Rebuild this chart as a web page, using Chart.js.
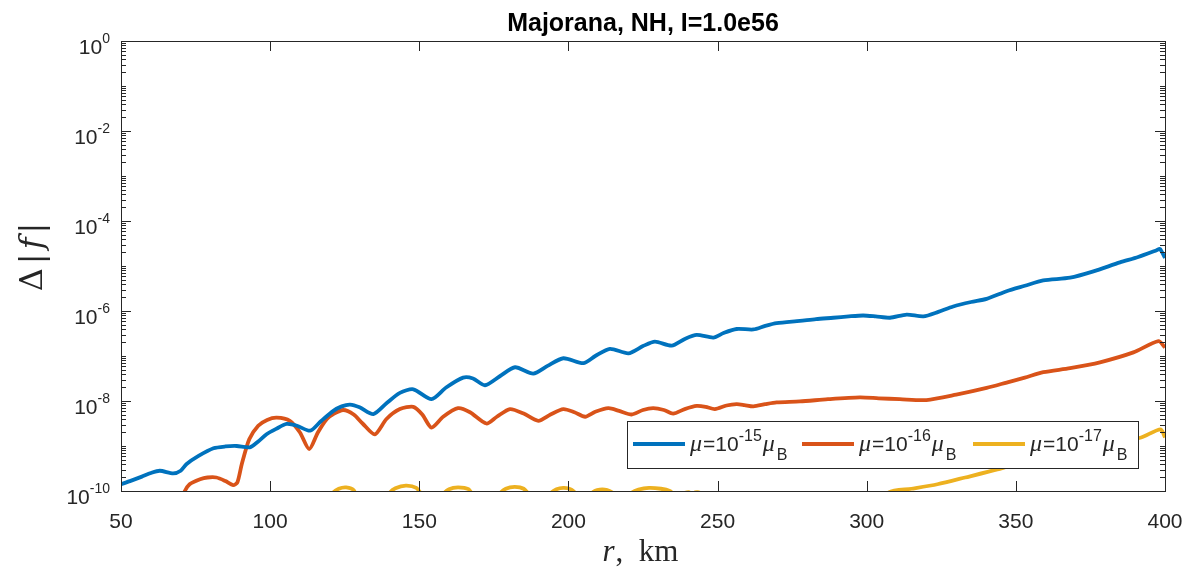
<!DOCTYPE html>
<html>
<head>
<meta charset="utf-8">
<script src="https://cdn.jsdelivr.net/npm/chart.js@4.4.1/dist/chart.umd.min.js"></script>
<style>
html, body { margin: 0; padding: 0; background: #fff; }
#wrap { width: 1185px; height: 569px; }
</style>
</head>
<body>
<div id="wrap"><canvas id="chart1" width="1185" height="569"></canvas></div>
<script>
// r in km and log10 of delta|f|
var rBlue = [50, 53, 57, 60, 63, 67.5, 70, 72, 76, 81, 85, 88.8, 93.2, 96, 98.8, 102, 105.5, 109, 113.4, 117,
    121.2, 124, 126.8, 130, 134.6, 139, 143.5, 148, 154.1, 159, 164.7, 168, 172, 177, 182.1, 188.2, 193, 198.3,
    205, 209, 213.9, 220.1, 225, 229, 234.6, 239, 243, 248.6, 252, 256.4, 262, 266, 269.8, 277.6, 283, 288.8,
    294, 298.8, 303, 307.8, 313.4, 319, 324, 329, 335, 340.2, 346.9, 353, 359.2, 368.2, 376, 384.9, 391, 397.2,
    398.3, 400];
var logBlue = [-9.85, -9.78, -9.68, -9.60, -9.55, -9.61, -9.55, -9.40, -9.22, -9.05, -9.01, -9.0, -9.03, -8.90,
    -8.74, -8.62, -8.51, -8.55, -8.66, -8.45, -8.22, -8.12, -8.08, -8.14, -8.29, -8.05, -7.82, -7.74, -7.96,
    -7.70, -7.48, -7.50, -7.65, -7.45, -7.25, -7.39, -7.22, -7.05, -7.16, -7.0, -6.84, -6.94, -6.78, -6.68,
    -6.77, -6.62, -6.53, -6.59, -6.49, -6.40, -6.41, -6.33, -6.27, -6.22, -6.18, -6.15, -6.12, -6.10, -6.12,
    -6.15, -6.08, -6.12, -6.02, -5.90, -5.80, -5.73, -5.56, -5.44, -5.32, -5.26, -5.12, -4.92, -4.80, -4.65,
    -4.62, -4.82];

var rRed = [70, 71.2, 73, 76.5, 79, 82, 85, 87.6, 89, 90.5, 93, 96, 99, 102.2, 106.6, 110, 113.1, 116, 119,
    121.2, 124.5, 128, 131, 135.1, 139, 143.5, 148, 151, 154.1, 158, 163, 167, 172.5, 176, 180.4, 185, 189.9,
    194, 198.3, 202, 205.6, 209, 213.4, 217, 221.2, 225, 228.4, 232, 235.1, 239, 243, 246, 249.1, 253, 256.4,
    259, 262, 266, 269.8, 277.6, 287, 297.7, 304, 311.1, 320, 330, 340.2, 346.9, 353, 359.2, 368.2, 378.2,
    389.4, 397.8, 400];
var logRed = [-10.3, -10.03, -9.85, -9.74, -9.70, -9.70, -9.78, -9.87, -9.81, -9.4, -8.85, -8.55, -8.42, -8.37,
    -8.44, -8.70, -9.07, -8.70, -8.40, -8.29, -8.20, -8.30, -8.50, -8.74, -8.40, -8.18, -8.13, -8.30, -8.59,
    -8.35, -8.16, -8.25, -8.50, -8.35, -8.18, -8.28, -8.44, -8.30, -8.18, -8.25, -8.35, -8.24, -8.16, -8.22,
    -8.30, -8.20, -8.16, -8.20, -8.28, -8.18, -8.11, -8.13, -8.18, -8.10, -8.07, -8.09, -8.12, -8.07, -8.03,
    -8.01, -7.96, -7.92, -7.94, -7.96, -7.98, -7.86, -7.71, -7.59, -7.48, -7.36, -7.27, -7.14, -6.92, -6.67,
    -6.81];

var rYellow = [118, 121, 123, 125.5, 128, 130, 136, 140, 142, 145.5, 149, 151, 155, 158, 160, 163, 166.5, 168,
    173, 177, 179, 182, 185, 187, 191, 194, 196, 198.5, 201, 203, 206, 208, 210.5, 213, 215, 218, 221, 223.5,
    227, 231, 234, 236, 239, 240.5, 241.5, 242.5, 244, 245, 260, 290, 300, 307.4, 315, 323.7, 333, 343.8, 355,
    365, 375, 385, 392, 398.5, 400];
var logYellow = [-10.6, -10.05, -9.95, -9.92, -9.98, -10.3, -10.6, -10.05, -9.94, -9.88, -9.93, -10.1, -10.5,
    -10.08, -9.96, -9.92, -9.96, -10.1, -10.5, -10.06, -9.95, -9.91, -9.95, -10.1, -10.5, -10.06, -9.96, -9.93,
    -9.97, -10.1, -10.4, -10.04, -9.97, -9.98, -10.05, -10.3, -10.05, -9.97, -9.93, -9.95, -10.0, -10.1, -10.04,
    -10.03, -10.1, -10.03, -10.04, -10.2, -11, -11, -10.5, -10.03, -9.95, -9.85, -9.7, -9.52, -9.3, -9.15, -9.0,
    -8.9, -8.81, -8.63, -8.81];

var xTicks = [50, 100, 150, 200, 250, 300, 350, 400];
var yDecades = [-10, -8, -6, -4, -2, 0];
var muExponents = ['-15', '-16', '-17'];
var colors = ['#0072BD', '#D95319', '#EDB120'];

var axisColor = '#262626';
var sans = '"Liberation Sans", Arial, sans-serif';
var serif = '"Liberation Serif", "Times New Roman", serif';

function toPoints(rs, logs) {
    return rs.map(function (r, i) { return {x: r, y: Math.pow(10, logs[i])}; });
}

function lineSet(label, pts, color) {
    return {
        label: label,
        data: pts,
        borderColor: color,
        backgroundColor: color,
        borderWidth: 3.8,
        pointRadius: 0,
        tension: 0.25,
        fill: false,
        clip: 0
    };
}

// draws "10" with a raised exponent, right edge at x
function drawPow(c, exp, xRight, base, size, supSize) {
    c.font = size + 'px ' + sans;
    var w1 = c.measureText('10').width;
    c.font = supSize + 'px ' + sans;
    var w2 = c.measureText(exp).width;
    var x0 = xRight - w1 - w2;
    c.font = size + 'px ' + sans;
    c.fillText('10', x0, base);
    c.font = supSize + 'px ' + sans;
    c.fillText(exp, x0 + w1, base - 10.5);
}

var matlabAxes = {
    id: 'matlabAxes',
    afterDatasetsDraw: function (chart) {
        var c = chart.ctx, a = chart.chartArea;
        var xs = chart.scales.x, ys = chart.scales.y;
        c.save();
        c.strokeStyle = axisColor;
        c.fillStyle = axisColor;
        c.lineWidth = 1;

        // ticks along x (inward, bottom and top)
        c.beginPath();
        xTicks.forEach(function (t) {
            var px = Math.round(xs.getPixelForValue(t)) + 0.5;
            c.moveTo(px, a.bottom); c.lineTo(px, a.bottom - 10);
            c.moveTo(px, a.top); c.lineTo(px, a.top + 10);
        });
        // log ticks along y (left and right)
        for (var d = -10; d <= 0; d++) {
            for (var k = 1; k <= 9; k++) {
                if (d === 0 && k > 1) break;
                var py = Math.round(ys.getPixelForValue(k * Math.pow(10, d))) + 0.5;
                var len = (k === 1 && d % 2 === 0) ? 10 : 5;
                c.moveTo(a.left, py); c.lineTo(a.left + len, py);
                c.moveTo(a.right, py); c.lineTo(a.right - len, py);
            }
        }
        c.stroke();
        c.strokeRect(Math.round(a.left) + 0.5, Math.round(a.top) + 0.5,
            Math.round(a.right - a.left), Math.round(a.bottom - a.top));

        // tick labels
        c.textBaseline = 'alphabetic';
        c.font = '21px ' + sans;
        c.textAlign = 'center';
        xTicks.forEach(function (t) {
            c.fillText(String(t), xs.getPixelForValue(t), a.bottom + 37);
        });
        c.textAlign = 'left';
        yDecades.forEach(function (d) {
            var py = ys.getPixelForValue(Math.pow(10, d));
            drawPow(c, String(d), a.left - 11, py + 12.5, 21, 14);
        });

        // title
        c.fillStyle = '#000';
        c.font = 'bold 25px ' + sans;
        c.textAlign = 'center';
        c.fillText('Majorana, NH, I=1.0e56', (a.left + a.right) / 2, 31);

        // x axis label: r, km
        c.fillStyle = axisColor;
        c.textAlign = 'left';
        c.font = 'italic 31px ' + serif;
        var wr = c.measureText('r').width;
        c.font = '31px ' + serif;
        var wk = c.measureText(',  km').width;
        var xl = (a.left + a.right) / 2 - 3 - (wr + wk) / 2;
        c.font = 'italic 31px ' + serif;
        c.fillText('r', xl, 561);
        c.font = '31px ' + serif;
        c.fillText(',  km', xl + wr + 1, 561);

        // y axis label: Δ|f|
        c.save();
        c.translate(42, 257);
        c.rotate(-Math.PI / 2);
        var ySerif = '"DejaVu Serif", ' + serif;
        var parts = [['Δ', ''], ['|', ''], ['f', 'italic '], ['|', '']];
        var gap = 4;
        var tot = -gap;
        parts.forEach(function (p) { c.font = p[1] + '32px ' + ySerif; tot += c.measureText(p[0]).width + gap; });
        var xx = -tot / 2;
        parts.forEach(function (p) {
            c.font = p[1] + '32px ' + ySerif;
            c.fillText(p[0], xx, 0);
            xx += c.measureText(p[0]).width + gap;
        });
        c.restore();

        // legend
        var lx = 627, ly = 421, lw = 511, lh = 47;
        c.fillStyle = '#fff';
        c.fillRect(lx, ly, lw, lh);
        c.strokeStyle = axisColor;
        c.lineWidth = 1;
        c.strokeRect(lx + 0.5, ly + 0.5, lw, lh);
        var starts = [633, 802, 973];
        chart.data.datasets.forEach(function (ds, i) {
            var x0 = starts[i], yMid = ly + 23;
            c.strokeStyle = ds.borderColor;
            c.lineWidth = 3.8;
            c.beginPath();
            c.moveTo(x0, yMid); c.lineTo(x0 + 52, yMid);
            c.stroke();
            c.fillStyle = axisColor;
            var tx = x0 + 57, base = ly + 30;
            c.font = 'italic 24px ' + serif;
            c.fillText('μ', tx, base);
            tx += c.measureText('μ').width + 1;
            c.font = '21px ' + sans;
            c.fillText('=10', tx, base);
            tx += c.measureText('=10').width;
            c.font = '16px ' + sans;
            c.fillText(muExponents[i], tx, base - 10);
            tx += c.measureText(muExponents[i]).width + 1;
            c.font = 'italic 24px ' + serif;
            c.fillText('μ', tx, base);
            tx += c.measureText('μ').width + 2;
            c.font = '16px ' + sans;
            c.fillText('B', tx, base + 9);
        });
        c.restore();
    }
};

var ctx1 = document.getElementById('chart1').getContext('2d');
var chart1 = new Chart(ctx1, {
    type: 'line',
    data: {
        datasets: [
            lineSet('μ=10^-15 μB', toPoints(rBlue, logBlue), colors[0]),
            lineSet('μ=10^-16 μB', toPoints(rRed, logRed), colors[1]),
            lineSet('μ=10^-17 μB', toPoints(rYellow, logYellow), colors[2])
        ]
    },
    options: {
        responsive: false,
        animation: false,
        layout: { padding: { left: 121, top: 41, right: 20, bottom: 78 } },
        plugins: { legend: { display: false }, tooltip: { enabled: false } },
        scales: {
            x: { type: 'linear', min: 50, max: 400, display: false },
            y: { type: 'logarithmic', min: 1e-10, max: 1, display: false }
        }
    },
    plugins: [matlabAxes]
});
</script>
</body>
</html>
